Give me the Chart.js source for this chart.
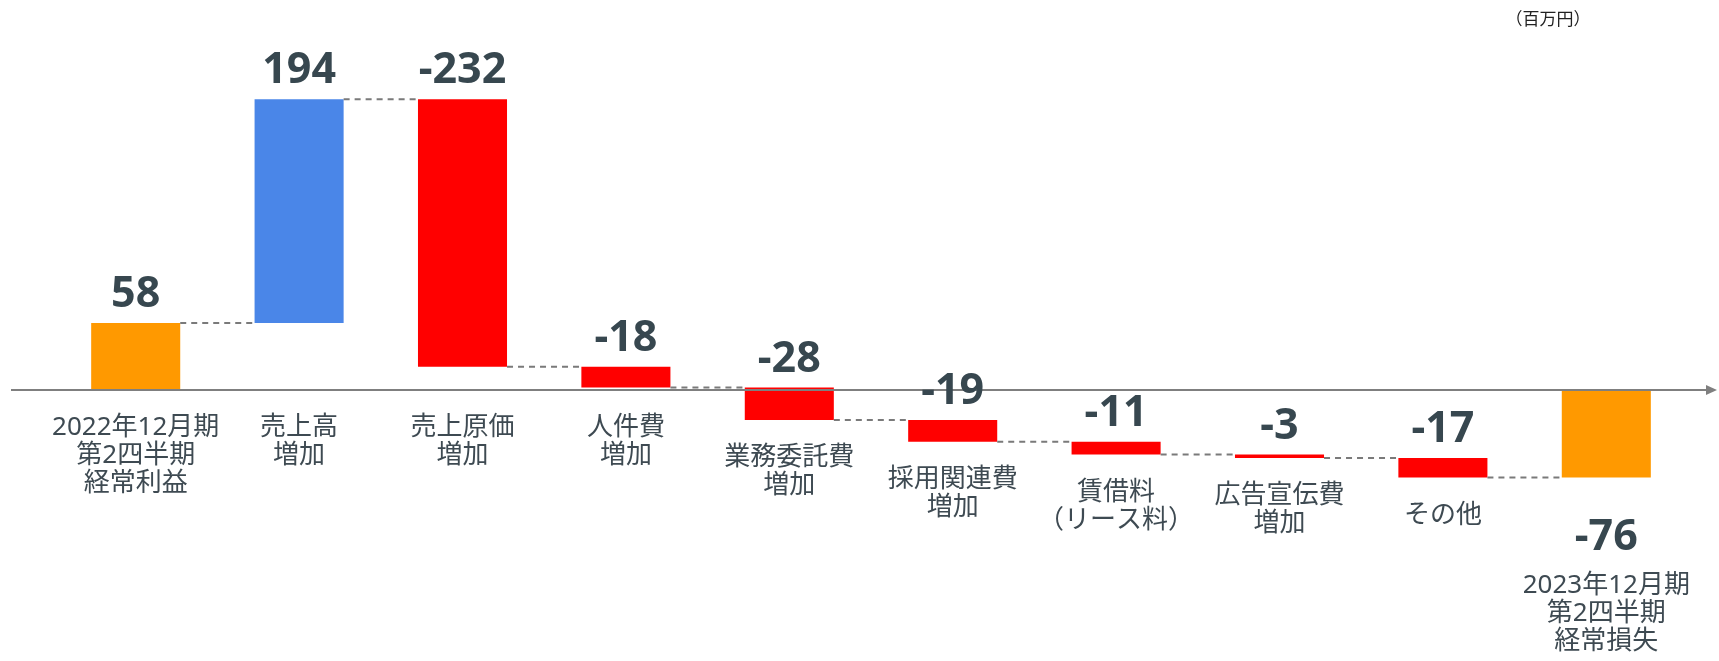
<!DOCTYPE html>
<html>
<head>
<meta charset="utf-8">
<script src="https://cdn.jsdelivr.net/npm/chart.js@4.4.1/dist/chart.umd.min.js"></script>
<style>
  html, body { margin: 0; padding: 0; background: #fff; }
  #wrap { width: 1719px; height: 661px; position: relative; }
</style>
</head>
<body>
<div id="wrap"><canvas id="chart"></canvas></div>
<script>

// categories (multi-line)
const categories = [
    ['2022年12月期', '第2四半期', '経常利益'],
    ['売上高', '増加'],
    ['売上原価', '増加'],
    ['人件費', '増加'],
    ['業務委託費', '増加'],
    ['採用関連費', '増加'],
    ['賃借料', '（リース料）'],
    ['広告宣伝費', '増加'],
    ['その他'],
    ['2023年12月期', '第2四半期', '経常損失'],
];
// changes; first is start, last is result (total)
const values = [58, 194, -232, -18, -28, -19, -11, -3, -17, -76];
const kinds  = ['total', 'up', 'down', 'down', 'down', 'down', 'down', 'down', 'down', 'total'];
const unitText = '（百万円）';

const colors = { total: '#FF9900', up: '#4A86E8', down: '#FF0000' };
const FONT = '"Noto Sans", "Noto Sans CJK JP", sans-serif';

// build floating bar ranges
let running = 0;
const ranges = values.map(function(v, i){
    if (kinds[i] === 'total') { running = v; return [0, v]; }
    const r = [running, running + v];
    running += v;
    return r;
});

const waterfallExtras = {
    id: 'waterfallExtras',
    afterDatasetsDraw(chart) {
        const ctx = chart.ctx;
        const meta = chart.getDatasetMeta(0);
        const y = chart.scales.y;
        const zeroY = y.getPixelForValue(0);

        ctx.save();
        // dashed connectors
        ctx.strokeStyle = '#7a7a7a';
        ctx.lineWidth = 2;
        ctx.setLineDash([6, 5]);
        for (let i = 0; i < meta.data.length - 1; i++) {
            const a = meta.data[i], b = meta.data[i + 1];
            const ly = y.getPixelForValue(ranges[i][1]);
            ctx.beginPath();
            ctx.moveTo(a.x + a.width / 2, ly);
            ctx.lineTo(b.x - b.width / 2, ly);
            ctx.stroke();
        }
        ctx.setLineDash([]);

        // axis with arrow
        ctx.strokeStyle = '#7f7f7f';
        ctx.lineWidth = 2;
        ctx.beginPath();
        ctx.moveTo(11, zeroY);
        ctx.lineTo(1708, zeroY);
        ctx.stroke();
        ctx.fillStyle = '#7f7f7f';
        ctx.beginPath();
        ctx.moveTo(1717, zeroY);
        ctx.lineTo(1706, zeroY - 5);
        ctx.lineTo(1706, zeroY + 5);
        ctx.closePath();
        ctx.fill();

        // labels
        ctx.textAlign = 'center';
        meta.data.forEach(function(bar, i){
            const top = Math.min(bar.y, bar.base);
            const bottom = Math.max(bar.y, bar.base, zeroY);
            const isLast = i === meta.data.length - 1;
            let labelY = bottom + 38;

            ctx.fillStyle = '#37474F';
            ctx.font = 'bold 43px ' + FONT;
            ctx.textBaseline = 'alphabetic';
            if (isLast) {
                ctx.fillText(String(values[i]), bar.x, bottom + 72);
                labelY = bottom + 108;
            } else {
                ctx.fillText(String(values[i]), bar.x, top - 16);
            }

            ctx.fillStyle = '#3E4A52';
            ctx.font = '26px ' + FONT;
            ctx.textBaseline = 'middle';
            categories[i].forEach(function(line, k){
                ctx.fillText(line, bar.x, labelY + k * 28);
            });
        });

        // unit
        ctx.fillStyle = '#222';
        ctx.font = '17px ' + FONT;
        ctx.fillText(unitText, 1548, 20);
        ctx.restore();
    }
};

new Chart(document.getElementById('chart').getContext('2d'), {
    type: 'bar',
    data: {
        labels: categories.map(function(c){ return c.join(''); }),
        datasets: [{
            data: ranges,
            backgroundColor: kinds.map(function(k){ return colors[k]; }),
            borderWidth: 0,
            barPercentage: 0.545,
            categoryPercentage: 1.0,
        }]
    },
    options: {
        responsive: true,
        maintainAspectRatio: false,
        animation: false,
        layout: { padding: { left: 54, right: 31, top: 0, bottom: 0 } },
        plugins: { legend: { display: false }, tooltip: { enabled: false } },
        scales: {
            x: { display: false },
            y: { display: false, min: -235, max: 338 }
        }
    },
    plugins: [waterfallExtras]
});
</script>
</body>
</html>
